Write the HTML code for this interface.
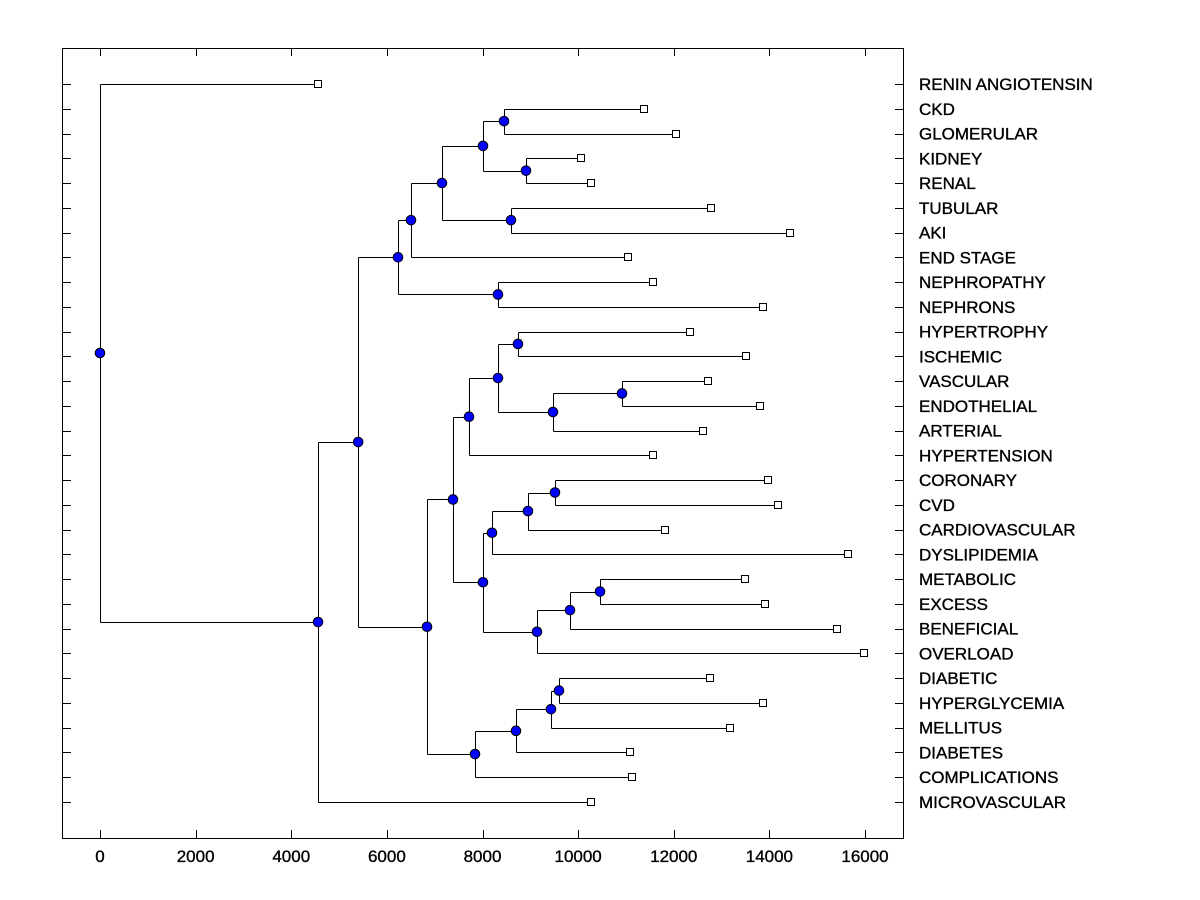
<!DOCTYPE html>
<html><head><meta charset="utf-8"><style>
html,body{margin:0;padding:0;background:#fff;}
svg{display:block;font-family:"Liberation Sans",Arial,sans-serif;}
</style></head><body>
<svg id="chart" width="1200" height="900" xmlns="http://www.w3.org/2000/svg"></svg>
<script>
const leafLabels=["RENIN ANGIOTENSIN","CKD","GLOMERULAR","KIDNEY","RENAL","TUBULAR","AKI","END STAGE","NEPHROPATHY","NEPHRONS","HYPERTROPHY","ISCHEMIC","VASCULAR","ENDOTHELIAL","ARTERIAL","HYPERTENSION","CORONARY","CVD","CARDIOVASCULAR","DYSLIPIDEMIA","METABOLIC","EXCESS","BENEFICIAL","OVERLOAD","DIABETIC","HYPERGLYCEMIA","MELLITUS","DIABETES","COMPLICATIONS","MICROVASCULAR"];
const leafValues=[4560,11378,12047,10060,10270,12780,14431,11043,11566,13867,12340,13511,12716,13804,12611,11566,13971,14180,11817,15644,13490,13908,15414,15979,12758,13867,13176,11085,11127,10270];
const nodeNames=["J","K","H","I","G","E","F","C","S","R","Q","P","N","W","V","T","Y","X","U","O","L","AB","AA","Z","M","D","B","A","ROOT"];
const nodeHeights=[8450,8910,8010,8596,7153,6505,8324,6233,10918,9474,8742,8324,7718,9516,8951,8199,10458,9830,9140,8010,7383,9600,9433,8700,7843,6840,5400,4560,0];
const nodeChildren=[["CKD","GLOMERULAR"],["KIDNEY","RENAL"],["J","K"],["TUBULAR","AKI"],["H","I"],["G","END STAGE"],["NEPHROPATHY","NEPHRONS"],["E","F"],["VASCULAR","ENDOTHELIAL"],["S","ARTERIAL"],["HYPERTROPHY","ISCHEMIC"],["Q","R"],["P","HYPERTENSION"],["CORONARY","CVD"],["W","CARDIOVASCULAR"],["V","DYSLIPIDEMIA"],["METABOLIC","EXCESS"],["Y","BENEFICIAL"],["X","OVERLOAD"],["T","U"],["N","O"],["DIABETIC","HYPERGLYCEMIA"],["AB","MELLITUS"],["AA","DIABETES"],["Z","COMPLICATIONS"],["L","M"],["C","D"],["B","MICROVASCULAR"],["RENIN ANGIOTENSIN","A"]];
const xTicks=[0,2000,4000,6000,8000,10000,12000,14000,16000];

const svg=document.getElementById('chart');
const NS="http://www.w3.org/2000/svg";
const L=62,R=903,T=48,B=838;
function xs(v){return 100+v*(765/16000);}
function ys(i){return 84+i*(718/29);}
function mk(tag,attrs,parent){const e=document.createElementNS(NS,tag);for(const k in attrs)e.setAttribute(k,attrs[k]);(parent||svg).appendChild(e);return e;}

const frame=mk('rect',{x:L+0.5,y:T+0.5,width:R-L,height:B-T,fill:'none',stroke:'#000','stroke-width':1});



xTicks.forEach((v,i)=>{
  const x=Math.round(xs(v))+0.5;
  const t=mk('line',{x1:x,y1:B,x2:x,y2:B-8,stroke:'#000'});
  
  
  const t2=mk('line',{x1:x,y1:T,x2:x,y2:T+8,stroke:'#000'});
  
  
  const lb=mk('text',{x:xs(v),y:862,'text-anchor':'middle','font-size':17,fill:'#000',stroke:'#000','stroke-width':0.35});
  lb.textContent=String(v);
  
  
});

const pos={};
leafLabels.forEach((n,i)=>{pos[n]={x:xs(leafValues[i]),y:ys(i),leaf:true};});
leafLabels.forEach((n,i)=>{
  const y=Math.round(ys(i))+0.5;
  const t=mk('line',{x1:L,y1:y,x2:L+9,y2:y,stroke:'#000'});
  
  
  const t2=mk('line',{x1:R-8,y1:y,x2:R,y2:y,stroke:'#000'});
  
  
  const lb=mk('text',{x:919,y:ys(i)+6,'font-size':17,fill:'#000',stroke:'#000','stroke-width':0.35});
  lb.textContent=n;
  
  
});

const g=mk('g',{stroke:'#000','stroke-width':1,fill:'none'});


nodeNames.forEach((n,i)=>{
  const c1=pos[nodeChildren[i][0]],c2=pos[nodeChildren[i][1]];
  const x=Math.round(xs(nodeHeights[i]))+0.5;
  const y=(c1.y+c2.y)/2;
  pos[n]={x:xs(nodeHeights[i]),y:y};
  const d=`M${x},${Math.round(c1.y)+0.5}V${Math.round(c2.y)+0.5}M${x},${Math.round(c1.y)+0.5}H${Math.round(c1.x)}M${x},${Math.round(c2.y)+0.5}H${Math.round(c2.x)}`;
  const p=mk('path',{d:d},g);
  
  
});
leafLabels.forEach((n,i)=>{
  const p=pos[n];
  const r=mk('rect',{x:Math.round(p.x)-3.5,y:Math.round(p.y)-3.5,width:7,height:7,fill:'#fff',stroke:'#000'});
  
  
});
nodeNames.forEach((n,i)=>{
  const p=pos[n];
  const c=mk('circle',{cx:p.x,cy:p.y,r:4.8,fill:'#0000ff',stroke:'#000'});
  
  
});
</script>
</body></html>
